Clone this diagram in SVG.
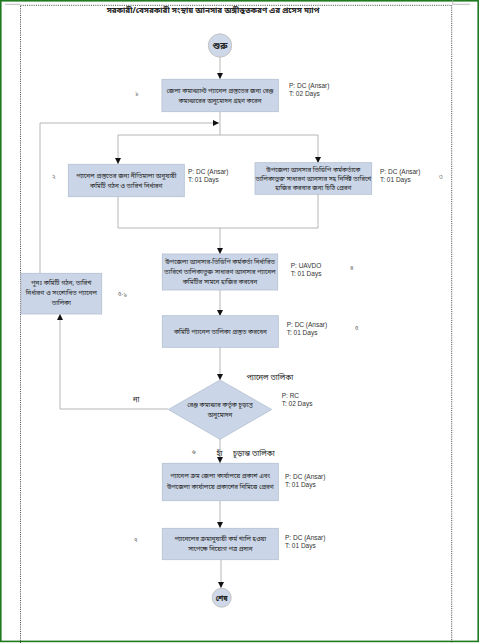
<svg xmlns="http://www.w3.org/2000/svg" width="479" height="643" viewBox="0 0 479 643">
<style>
.bx{fill:#cad6e7;stroke:#b3bfd0;stroke-width:0.8}
.ci{fill:#cfd8e8;stroke:#c4c4c4;stroke-width:1}
.bt{font-family:"Noto Sans Bengali","Noto Sans","DejaVu Sans",sans-serif;font-size:6.3px;fill:#222;text-anchor:middle}
.lb{font-family:"Liberation Sans",Arial,sans-serif;font-size:6.5px;fill:#333}
.nm{font-family:"Noto Sans Bengali","Noto Sans","DejaVu Sans",sans-serif;font-size:6px;fill:#555}
.lk{font-family:"Noto Sans Bengali","Noto Sans","DejaVu Sans",sans-serif;font-size:7.5px;fill:#222}
.cn{fill:none;stroke:#a3a3a3;stroke-width:0.8}
</style>
<defs>
<marker id="ar" viewBox="0 0 6 6" refX="6" refY="3" markerWidth="6" markerHeight="6" markerUnits="userSpaceOnUse" orient="auto">
<path d="M0,0 L6,3 L0,6 Z" fill="#111"/>
</marker>
</defs>
<rect width="479" height="643" fill="#fff"/>
<rect x="0.8" y="0.8" width="477.4" height="640.6" fill="none" stroke="#1f7a1f" stroke-width="1.6"/>
<rect x="20.5" y="5.3" width="431.2" height="640" fill="none" stroke="#111" stroke-width="0.8" stroke-dasharray="1,1.2"/>
<path d="M5,4.3 H20.5 M452.7,0 V4.3 H470" stroke="#aaa" stroke-width="0.8" fill="none"/>
<text x="213" y="12.5" font-family="'Noto Sans Bengali','Noto Sans','DejaVu Sans',sans-serif" font-size="8" font-weight="bold" fill="#222" text-anchor="middle">সরকারী/বেসরকারী সংস্থায় আনসার অঙ্গীভূতকরণ এর প্রসেস ম্যাপ</text>

<g id="connectors">
<path class="cn" d="M220,57 V79" marker-end="url(#ar)"/>
<path class="cn" d="M40,273 V123 H219" marker-end="url(#ar)"/>
<path class="cn" d="M220,112 V135 M118,135 H318"/>
<path class="cn" d="M118,135 V164" marker-end="url(#ar)"/>
<path class="cn" d="M318,135 V163" marker-end="url(#ar)"/>
<path class="cn" d="M118,197 V228 M318,194 V228 M118,228 H318"/>
<path class="cn" d="M220,228 V254" marker-end="url(#ar)"/>
<path class="cn" d="M220,290 V316" marker-end="url(#ar)"/>
<path class="cn" d="M220,347 V380" marker-end="url(#ar)"/>
<path class="cn" d="M168,409 H60 V314" marker-end="url(#ar)"/>
<path class="cn" d="M220,439 V463" marker-end="url(#ar)"/>
<path class="cn" d="M220,501 V528" marker-end="url(#ar)"/>
<path class="cn" d="M221,560 V588" marker-end="url(#ar)"/>
</g>

<g id="start">
<circle class="ci" cx="220" cy="45.5" r="11.7"/>
<text x="220" y="49" font-family="'Noto Sans Bengali','Noto Sans','DejaVu Sans',sans-serif" font-size="9" font-weight="bold" fill="#222" text-anchor="middle">শুরু</text>
</g>

<g id="step1">
<rect class="bx" x="162" y="79.3" width="116.3" height="32.4"/>
<text class="bt" x="220" y="93">জেলা কমান্ড্যান্ট প্যানেল প্রস্তুতের জন্য রেঞ্জ</text>
<text class="bt" x="220" y="103">কমান্ডারের অনুমোদন গ্রহণ করেন</text>
<text class="lb" x="289" y="88">P: DC (Ansar)</text>
<text class="lb" x="289" y="96">T: 02 Days</text>
<text class="nm" x="135" y="95">১</text>
</g>

<g id="step2">
<rect class="bx" x="68.3" y="164.3" width="116" height="32.4"/>
<text class="bt" x="126.3" y="178">প্যানেল প্রস্তুতের জন্য নীতিমালা অনুযায়ী</text>
<text class="bt" x="126.3" y="188">কমিটি গঠন ও তারিখ নির্ধারণ</text>
<text class="lb" x="188" y="173.5">P: DC (Ansar)</text>
<text class="lb" x="188" y="181.5">T: 01 Days</text>
<text class="nm" x="52" y="179">২</text>
</g>

<g id="step3">
<rect class="bx" x="255" y="162.7" width="116.7" height="31.6"/>
<text class="bt" x="313.3" y="171.5">উপজেলা আনসার ভিডিপি কর্মকর্তাকে</text>
<text class="bt" x="313.3" y="180.5">তালিকাভুক্ত সাধারণ আনসার সহ নির্দিষ্ট তারিখে</text>
<text class="bt" x="313.3" y="189.5">হাজির করবার জন্য চিঠি প্রেরণ</text>
<text class="lb" x="380" y="173.5">P: DC (Ansar)</text>
<text class="lb" x="380" y="181.5">T: 01 Days</text>
<text class="nm" x="439" y="179">৩</text>
</g>

<g id="step4">
<rect class="bx" x="162.3" y="254" width="115.4" height="36"/>
<text class="bt" x="220" y="264">উপজেলা আনসার-ভিডিপি কর্মকর্তা নির্ধারিত</text>
<text class="bt" x="220" y="274">তারিখে তালিকাভুক্ত সাধারণ আনসার প্যানেল</text>
<text class="bt" x="220" y="284">কমিটির সামনে হাজির করবেন</text>
<text class="lb" x="290.7" y="267.5">P: UAVDO</text>
<text class="lb" x="290.7" y="275.5">T: 01 Days</text>
<text class="nm" x="350" y="270">৪</text>
</g>

<g id="step4-1">
<rect class="bx" x="21" y="273.3" width="80.7" height="40.7"/>
<text class="bt" x="61.3" y="285">পুনঃ কমিটি গঠন, তারিখ</text>
<text class="bt" x="61.3" y="295">নির্ধারণ ও সংশোধিত প্যানেল</text>
<text class="bt" x="61.3" y="305">তালিকা</text>
<text class="nm" x="118" y="296">৫-১</text>
</g>

<g id="step5">
<rect class="bx" x="162.3" y="315.7" width="116" height="31.6"/>
<text class="bt" x="220.3" y="333.5">কমিটি প্যানেল তালিকা প্রস্তুত করবেন</text>
<text class="lb" x="286.7" y="326.5">P: DC (Ansar)</text>
<text class="lb" x="286.7" y="334.5">T: 01 Days</text>
<text class="nm" x="355" y="330">৫</text>
</g>

<g id="decision">
<path class="bx" d="M220,380 L271.7,409.5 L220,439.3 L168.3,409.5 Z"/>
<text class="bt" x="220" y="407">রেঞ্জ কমান্ডার কর্তৃক চূড়ান্ত</text>
<text class="bt" x="220" y="417">অনুমোদন</text>
<text class="lb" x="281.7" y="397.5">P: RC</text>
<text class="lb" x="281.7" y="405.5">T: 02 Days</text>
<text class="lk" x="246.5" y="380">প্যানেল তালিকা</text>
<text class="lk" x="133" y="402">না</text>
<text class="lk" x="216.5" y="456">হাঁ</text>
<text class="lk" x="233" y="456">চূড়ান্ত তালিকা</text>
<text class="nm" x="192" y="454">৬</text>
</g>

<g id="step6">
<rect class="bx" x="162.3" y="463.3" width="116" height="37.4"/>
<text class="bt" x="220.3" y="478">প্যানেল ক্রম জেলা কার্যালয়ে প্রকাশ এবং</text>
<text class="bt" x="220.3" y="489">উপজেলা কার্যালয়ে প্রকাশের নিমিত্তে প্রেরণ</text>
<text class="lb" x="285" y="479">P: DC (Ansar)</text>
<text class="lb" x="285" y="487">T: 01 Days</text>
</g>

<g id="step7">
<rect class="bx" x="162.3" y="528.3" width="116" height="31.4"/>
<text class="bt" x="220.3" y="541">প্যানেলের ক্রমানুযায়ী কর্ম খালি হওয়া</text>
<text class="bt" x="220.3" y="551">সাপেক্ষে নিয়োগ পত্র প্রদান</text>
<text class="lb" x="285" y="540">P: DC (Ansar)</text>
<text class="lb" x="285" y="548">T: 01 Days</text>
<text class="nm" x="134" y="542">৭</text>
</g>

<g id="end">
<circle class="ci" cx="221.7" cy="597.7" r="9.5"/>
<text x="221.7" y="600.5" font-family="'Noto Sans Bengali','Noto Sans','DejaVu Sans',sans-serif" font-size="7" font-weight="bold" fill="#222" text-anchor="middle">শেষ</text>
</g>
</svg>
